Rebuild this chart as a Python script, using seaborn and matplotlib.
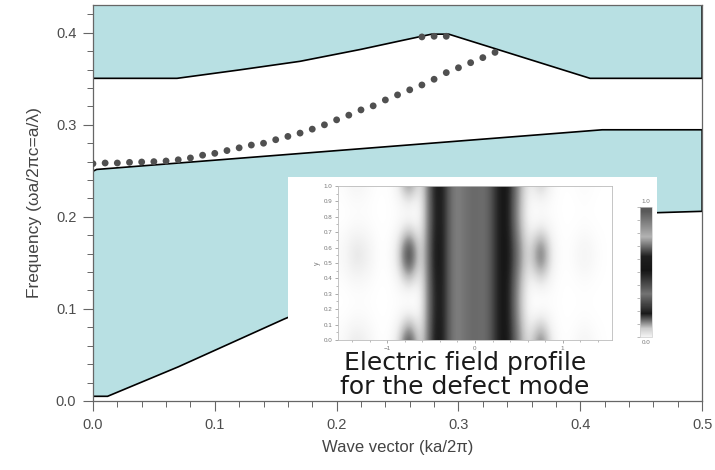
import matplotlib
matplotlib.use('Agg')
import matplotlib.pyplot as plt
import seaborn as sns
import numpy as np
import pandas as pd
from matplotlib.colors import LinearSegmentedColormap, Normalize
from matplotlib.cm import ScalarMappable
from matplotlib.ticker import MultipleLocator, FormatStrFormatter

# ---- values ----
# lower edge of the upper (cyan) band
upper_edge_k = [0.0, 0.069, 0.12, 0.17, 0.22, 0.255, 0.278, 0.292, 0.408, 0.5]
upper_edge_f = [0.3505, 0.3505, 0.3596, 0.369, 0.382, 0.392, 0.3985, 0.3985, 0.3505, 0.3505]

# upper edge of the lower band
lower_top_k = [0.0, 0.003, 0.418, 0.5]
lower_top_f = [0.2495, 0.2515, 0.2946, 0.2946]

# lower edge of the lower band (light line)
lower_bot_k = [0.0, 0.012, 0.07, 0.157, 0.25, 0.35, 0.45, 0.5]
lower_bot_f = [0.005, 0.005, 0.037, 0.089, 0.14, 0.18, 0.204, 0.206]

# defect mode (dotted)
defect_k = [0.00, 0.01, 0.02, 0.03, 0.04, 0.05, 0.06, 0.07, 0.08, 0.09,
            0.10, 0.11, 0.12, 0.13, 0.14, 0.15, 0.16, 0.17, 0.18, 0.19,
            0.20, 0.21, 0.22, 0.23, 0.24, 0.25, 0.26, 0.27, 0.28, 0.29,
            0.30, 0.31, 0.32, 0.33, 0.27, 0.28, 0.29]
defect_f = [0.2578, 0.2585, 0.2585, 0.2592, 0.2596, 0.2600, 0.2607, 0.2620, 0.2640, 0.2670,
            0.2690, 0.2720, 0.2750, 0.2780, 0.2800, 0.2838, 0.2874, 0.2910, 0.2953, 0.3000,
            0.3054, 0.3105, 0.3162, 0.3206, 0.3270, 0.3325, 0.3380, 0.3433, 0.3495, 0.3567,
            0.3620, 0.3675, 0.3730, 0.3787, 0.3955, 0.3962, 0.3962]

# inset: field darkness (0 white .. 1 black), rows y = 0.0 .. 1.0, cols x = -1.5 .. 1.5
field_rows = [
    [0.04, 0.18, 0.12, 0.02, 0.0, 0.15, 1.00, 0.05, 0.88, 0.96, 0.55, 0.62, 0.68, 0.62, 0.88, 0.98, 0.55, 0.12, 0.72, 0.10, 0.0, 0.03, 0.10, 0.03, 0.0],
    [0.02, 0.08, 0.06, 0.01, 0.0, 0.06, 0.50, 0.02, 0.86, 0.96, 0.55, 0.62, 0.68, 0.62, 0.88, 0.98, 0.50, 0.05, 0.35, 0.05, 0.0, 0.01, 0.04, 0.01, 0.0],
    [0.00, 0.02, 0.02, 0.00, 0.0, 0.02, 0.04, 0.00, 0.84, 0.96, 0.55, 0.62, 0.68, 0.62, 0.88, 0.98, 0.45, 0.00, 0.03, 0.02, 0.0, 0.00, 0.01, 0.00, 0.0],
    [0.00, 0.02, 0.02, 0.00, 0.0, 0.02, 0.04, 0.00, 0.84, 0.96, 0.55, 0.62, 0.68, 0.62, 0.88, 0.98, 0.45, 0.00, 0.03, 0.02, 0.0, 0.00, 0.01, 0.00, 0.0],
    [0.02, 0.08, 0.06, 0.01, 0.0, 0.06, 0.45, 0.02, 0.86, 0.96, 0.55, 0.62, 0.68, 0.62, 0.88, 0.98, 0.50, 0.05, 0.30, 0.05, 0.0, 0.01, 0.04, 0.01, 0.0],
    [0.04, 0.18, 0.14, 0.02, 0.0, 0.15, 1.00, 0.05, 0.88, 0.96, 0.55, 0.62, 0.68, 0.62, 0.88, 0.98, 0.58, 0.12, 0.72, 0.10, 0.0, 0.03, 0.10, 0.03, 0.0],
    [0.04, 0.18, 0.14, 0.02, 0.0, 0.15, 1.00, 0.05, 0.88, 0.96, 0.55, 0.62, 0.68, 0.62, 0.88, 0.98, 0.58, 0.12, 0.72, 0.10, 0.0, 0.03, 0.10, 0.03, 0.0],
    [0.02, 0.08, 0.06, 0.01, 0.0, 0.06, 0.40, 0.02, 0.86, 0.96, 0.55, 0.62, 0.68, 0.62, 0.88, 0.98, 0.50, 0.05, 0.28, 0.05, 0.0, 0.01, 0.04, 0.01, 0.0],
    [0.00, 0.02, 0.02, 0.00, 0.0, 0.02, 0.04, 0.00, 0.84, 0.96, 0.55, 0.62, 0.68, 0.62, 0.88, 0.98, 0.45, 0.00, 0.03, 0.02, 0.0, 0.00, 0.01, 0.00, 0.0],
    [0.01, 0.04, 0.03, 0.00, 0.0, 0.04, 0.20, 0.01, 0.85, 0.96, 0.55, 0.62, 0.68, 0.62, 0.88, 0.98, 0.47, 0.02, 0.10, 0.02, 0.0, 0.00, 0.02, 0.00, 0.0],
    [0.02, 0.10, 0.06, 0.01, 0.0, 0.08, 0.70, 0.03, 0.86, 0.96, 0.55, 0.62, 0.68, 0.62, 0.88, 0.98, 0.50, 0.06, 0.35, 0.05, 0.0, 0.01, 0.04, 0.01, 0.0],
]

# colour bar of the inset: (position, grey level)
cbar_pos = [0.0, 0.064, 0.18, 0.33, 0.51, 0.62, 0.77, 0.97, 1.0]
cbar_grey = [0.95, 0.80, 0.10, 0.45, 0.08, 0.12, 0.70, 0.35, 0.35]

BAND = "#b8e0e3"
AXCOL = "#666666"

sns.set_style("ticks")
plt.rcParams["font.family"] = ["Liberation Sans", "DejaVu Sans"]

fig = plt.figure(figsize=(7.15, 4.70), dpi=100)
ax = fig.add_axes([0.130, 0.147, 0.852, 0.842])

# bands
ax.fill(upper_edge_k + [0.5, 0.0], upper_edge_f + [0.43, 0.43],
        facecolor=BAND, edgecolor="black", linewidth=1.2, zorder=1)
ax.fill(lower_top_k + lower_bot_k[::-1], lower_top_f + lower_bot_f[::-1],
        facecolor=BAND, edgecolor="black", linewidth=1.2, zorder=1)

# defect mode
df = pd.DataFrame({"k": defect_k, "f": defect_f})
sns.scatterplot(data=df, x="k", y="f", color="#505050", s=24,
                edgecolor="none", ax=ax, zorder=3, legend=False)

ax.set_xlim(0, 0.5)
ax.set_ylim(0, 0.43)
ax.xaxis.set_major_locator(MultipleLocator(0.1))
ax.xaxis.set_minor_locator(MultipleLocator(0.02))
ax.yaxis.set_major_locator(MultipleLocator(0.1))
ax.yaxis.set_minor_locator(MultipleLocator(0.02))
ax.xaxis.set_major_formatter(FormatStrFormatter("%.1f"))
ax.yaxis.set_major_formatter(FormatStrFormatter("%.1f"))
ax.tick_params(which="major", direction="out", length=7, width=0.8,
               color=AXCOL, labelsize=10.5, labelcolor="#4d4d4d", pad=5)
ax.tick_params(which="minor", direction="out", length=4, width=0.7, color=AXCOL)
for s in ax.spines.values():
    s.set_color(AXCOL)
    s.set_linewidth(0.9)
ax.set_xlabel("Wave vector (ka/2\u03c0)", fontsize=12, color="#444444", labelpad=6)
ax.set_ylabel("Frequency (\u03c9a/2\u03c0c=a/\u03bb)", fontsize=12.5, color="#444444", labelpad=10)

# inset background box
bg = fig.add_axes([0.4028, 0.151, 0.516, 0.4723])
bg.set_facecolor("white")
bg.set_xticks([])
bg.set_yticks([])
for s in bg.spines.values():
    s.set_visible(False)
bg.text(0.48, 0.108, "Electric field profile\nfor the defect mode",
        transform=bg.transAxes, ha="center", va="center", fontsize=18,
        family=["DejaVu Sans"], color="#1a1a1a", linespacing=1.0)

# inset field map
hm = fig.add_axes([0.4727, 0.2766, 0.3832, 0.3277])
hm.imshow(np.array(field_rows), cmap="Greys", vmin=0, vmax=1, origin="lower",
          extent=(-1.5625, 1.5625, -0.05, 1.05), aspect="auto",
          interpolation="bicubic")
hm.set_xlim(-1.5625, 1.5625)
hm.set_ylim(0, 1)
hm.set_xticks([-1, 0, 1])
hm.xaxis.set_minor_locator(MultipleLocator(0.2))
hm.yaxis.set_major_locator(MultipleLocator(0.1))
hm.yaxis.set_minor_locator(MultipleLocator(0.05))
hm.yaxis.set_major_formatter(FormatStrFormatter("%.1f"))
hm.tick_params(which="major", length=2.5, width=0.5, color="#888888",
               labelsize=4.5, labelcolor="#777777", pad=1.5)
hm.tick_params(which="minor", length=1.5, width=0.4, color="#888888")
hm.set_ylabel("y", fontsize=5, color="#777777", labelpad=2)
for s in hm.spines.values():
    s.set_color("#bbbbbb")
    s.set_linewidth(0.6)

# inset colour bar
cax = fig.add_axes([0.895, 0.283, 0.0168, 0.2766])
cmap_cb = LinearSegmentedColormap.from_list(
    "fieldbar", [(p, (g, g, g)) for p, g in zip(cbar_pos, cbar_grey)])
cb = fig.colorbar(ScalarMappable(norm=Normalize(0, 1), cmap=cmap_cb), cax=cax)
cb.outline.set_edgecolor("#cccccc")
cb.outline.set_linewidth(0.5)
cax.yaxis.set_ticks_position("left")
cax.set_yticks(np.linspace(0, 1, 11))
cax.set_yticklabels([])
cax.tick_params(length=2, width=0.4, color="#888888")
cax.text(0.5, 1.02, "1.0", transform=cax.transAxes, ha="center", va="bottom",
         fontsize=4.5, color="#777777")
cax.text(0.5, -0.02, "0.0", transform=cax.transAxes, ha="center", va="top",
         fontsize=4.5, color="#777777")

fig.savefig("out.png", dpi=100)
